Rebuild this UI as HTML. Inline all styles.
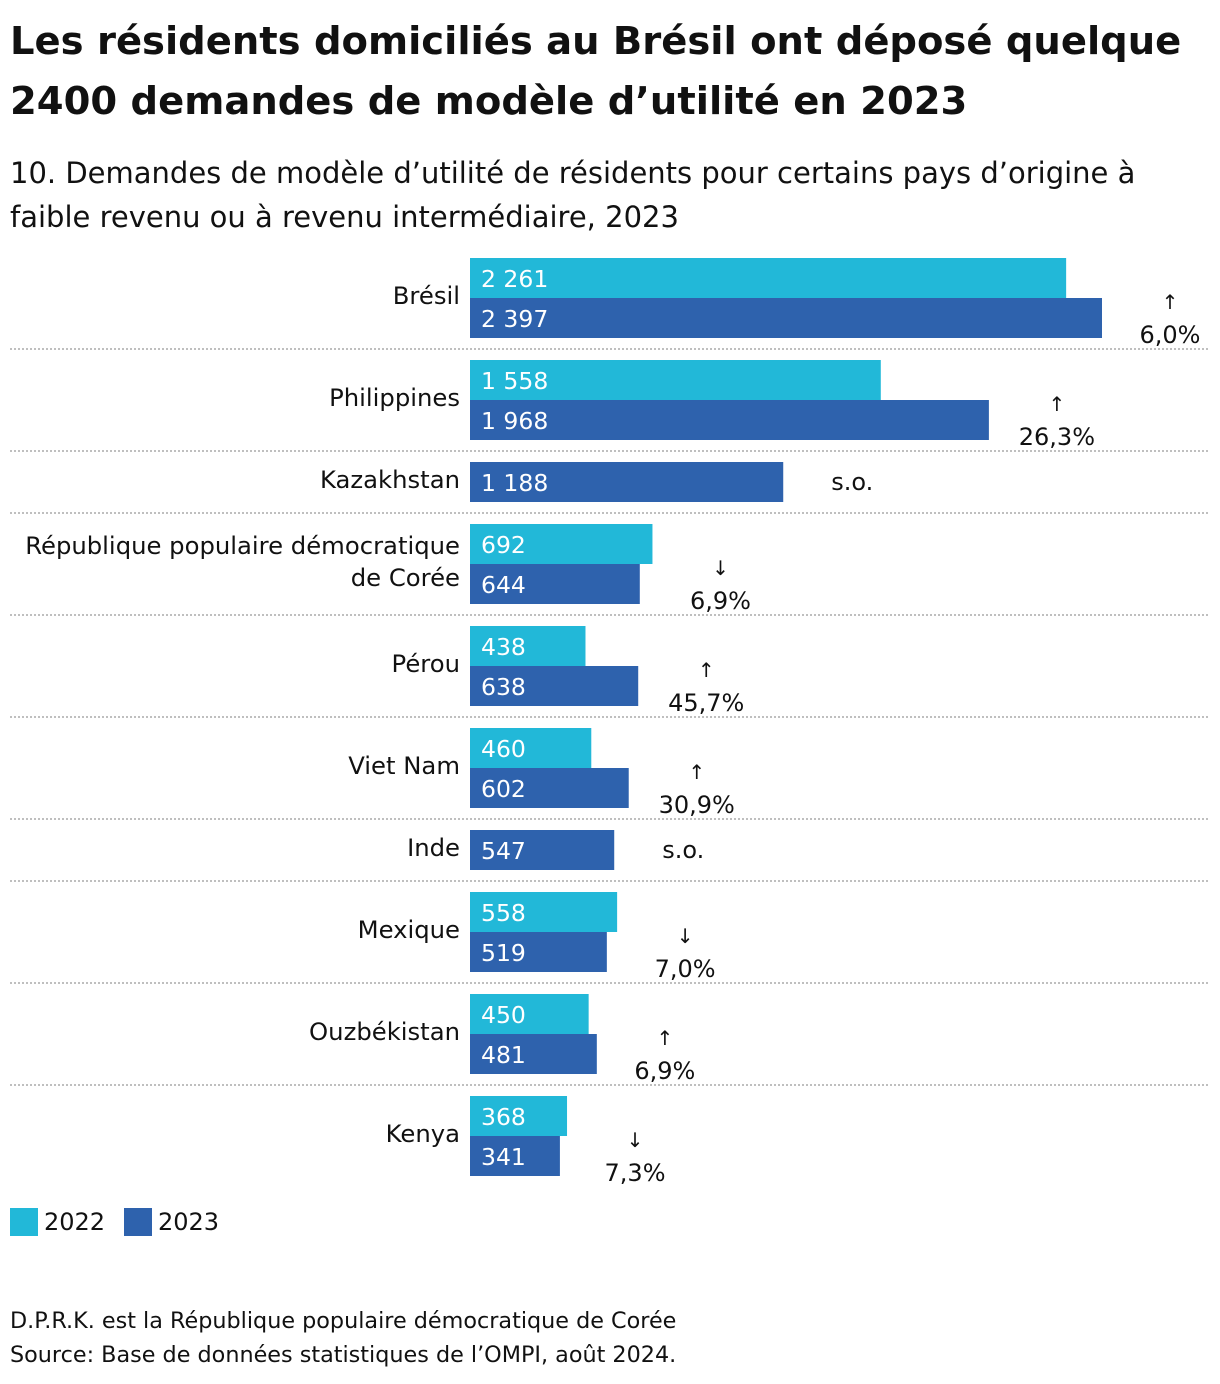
<!DOCTYPE html>
<html lang="fr"><head><meta charset="utf-8">
<style>
html,body{margin:0;padding:0;background:#fff;}
body{width:1220px;height:1384px;position:relative;overflow:hidden;font-family:"DejaVu Sans","Liberation Sans",sans-serif;color:#111;}
h1{position:absolute;left:10px;top:12px;margin:0;font-size:38.5px;line-height:60px;font-weight:bold;width:1210px;}
.sub{position:absolute;left:10px;top:151px;font-size:29px;line-height:44px;width:1205px;}
.note{position:absolute;left:10px;font-size:22.3px;}
</style></head><body>
<h1>Les résidents domiciliés au Brésil ont déposé quelque 2400 demandes de modèle d’utilité en 2023</h1>
<div class="sub">10. Demandes de modèle d’utilité de résidents pour certains pays d’origine à faible revenu ou à revenu intermédiaire, 2023</div>
<svg id="chart" width="1220" height="1384" style="position:absolute;left:0;top:0" font-family="DejaVu Sans, Liberation Sans, sans-serif"></svg>
<div class="note" style="top:1308px">D.P.R.K. est la République populaire démocratique de Corée</div>
<div class="note" style="top:1342px">Source: Base de données statistiques de l’OMPI, août 2024.</div>
<script>
const countries=["Brésil","Philippines","Kazakhstan","République populaire démocratique|de Corée","Pérou","Viet Nam","Inde","Mexique","Ouzbékistan","Kenya"];
const v2022=[2261,1558,null,692,438,460,null,558,450,368];
const v2023=[2397,1968,1188,644,638,602,547,519,481,341];
const changes=["↑|6,0%","↑|26,3%","s.o.","↓|6,9%","↑|45,7%","↑|30,9%","s.o.","↓|7,0%","↑|6,9%","↓|7,3%"];
const C1="#22b8d8",C2="#2e62ad";
const svg=document.getElementById('chart');
const NS="http://www.w3.org/2000/svg";
const x0=470,k=632/2397;
const xs=v=>v*k;
const fmt=v=>String(v).replace(/\B(?=(\d{3})+(?!\d))/g,' ');
function mk(tag,attrs,txt){const e=document.createElementNS(NS,tag);for(const a in attrs)e.setAttribute(a,attrs[a]);if(txt!=null)e.textContent=txt;svg.appendChild(e);return e;}
let y=258;
countries.forEach((c,i)=>{
  const two=v2022[i]!=null;
  const h=two?80:40;
  let by=y;
  if(two){
    const r=mk('rect',{x:x0,y:by,width:xs(v2022[i]),height:40,fill:C1});
    
    
    const t=mk('text',{x:x0+11,y:by+29,'font-size':23.5,fill:'#fff'},fmt(v2022[i]));
    
    
    by+=40;
  }
  const r2=mk('rect',{x:x0,y:by,width:xs(v2023[i]),height:40,fill:C2});
  
  
  const t2=mk('text',{x:x0+11,y:by+29,'font-size':23.5,fill:'#fff'},fmt(v2023[i]));
  
  
  const parts=c.split('|');
  const cy=y+h/2;
  parts.forEach((p,j)=>{
    const ly=cy+6+(j-(parts.length-1)/2)*32;
    const t=mk('text',{x:460,y:ly,'font-size':24.3,'text-anchor':'end',fill:'#111'},p);
    
    
  });
  const maxEnd=x0+xs(Math.max(v2022[i]||0,v2023[i]));
  const ch=changes[i].split('|');
  if(ch.length===1){
    const t=mk('text',{x:maxEnd+48,y:cy+8,'font-size':24,fill:'#111'},ch[0]);
    
    
  }else{
    const cx=maxEnd+68;
    const a=mk('text',{x:cx,y:cy+11,'font-size':20,'text-anchor':'middle',fill:'#111'},ch[0]);
    
    
    const t=mk('text',{x:cx,y:cy+45,'font-size':24,'text-anchor':'middle',fill:'#111'},ch[1]);
    
    
  }
  y+=h;
  if(i<countries.length-1){
    const l=mk('line',{x1:10,x2:1210,y1:y+11,y2:y+11,stroke:'#aaa','stroke-width':1.5,'stroke-dasharray':'2,2'});
    
    
    y+=22;
  }
});
[[C1,"2022",10],[C2,"2023",124]].forEach(([c,l,x])=>{
  const r=mk('rect',{x:x,y:1208,width:28,height:28,fill:c});
  
  
  const t=mk('text',{x:x+34,y:1230,'font-size':24,fill:'#111'},l);
  
  
});
</script>
</body></html>
